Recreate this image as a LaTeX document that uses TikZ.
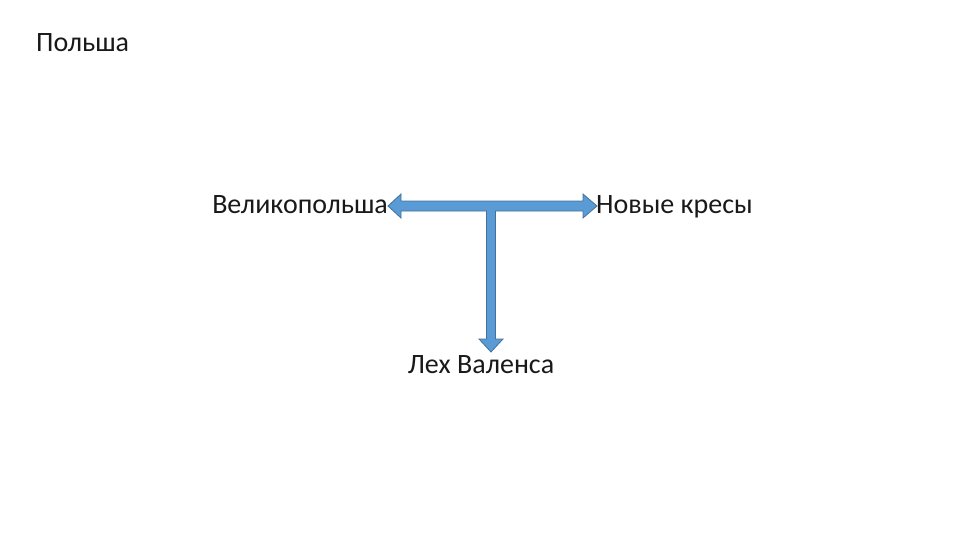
\documentclass[tikz,border=0pt]{standalone}
\usepackage{fontspec}
\setmainfont{Carlito}
\usetikzlibrary{calc}
\begin{document}
\begin{tikzpicture}[x=1pt,y=-1pt,
  lbl/.style={inner sep=0pt,font=\fontsize{28}{32}\selectfont,text=black!90},
  tarrow/.style={fill={rgb,255:red,91;green,155;blue,213},draw={rgb,255:red,65;green,113;blue,156},line width=0.8pt,line join=miter}]
\useasboundingbox (0,0) rectangle (960,540);
\node[lbl,anchor=base west] (title) at (36,52) {Польша};
\node[lbl,anchor=base east] (w) at (388,213) {Великопольша};
\node[lbl,anchor=base west] (e) at (596,213) {Новые кресы};
\node[lbl,anchor=base] (s) at (481,373) {Лех Валенса};
\coordinate (bt) at (491,352);
\draw[tarrow] (388,206) -- (401,194) -- (401,201) -- (583,201) -- (583,194) -- (597,206)
  -- (583,218) -- (583,211) -- (495.5,211) -- (495.5,339) -- (503,339) -- (bt)
  -- (479,339) -- (486.5,339) -- (486.5,211) -- (401,211) -- (401,218) -- cycle;
\end{tikzpicture}
\end{document}
